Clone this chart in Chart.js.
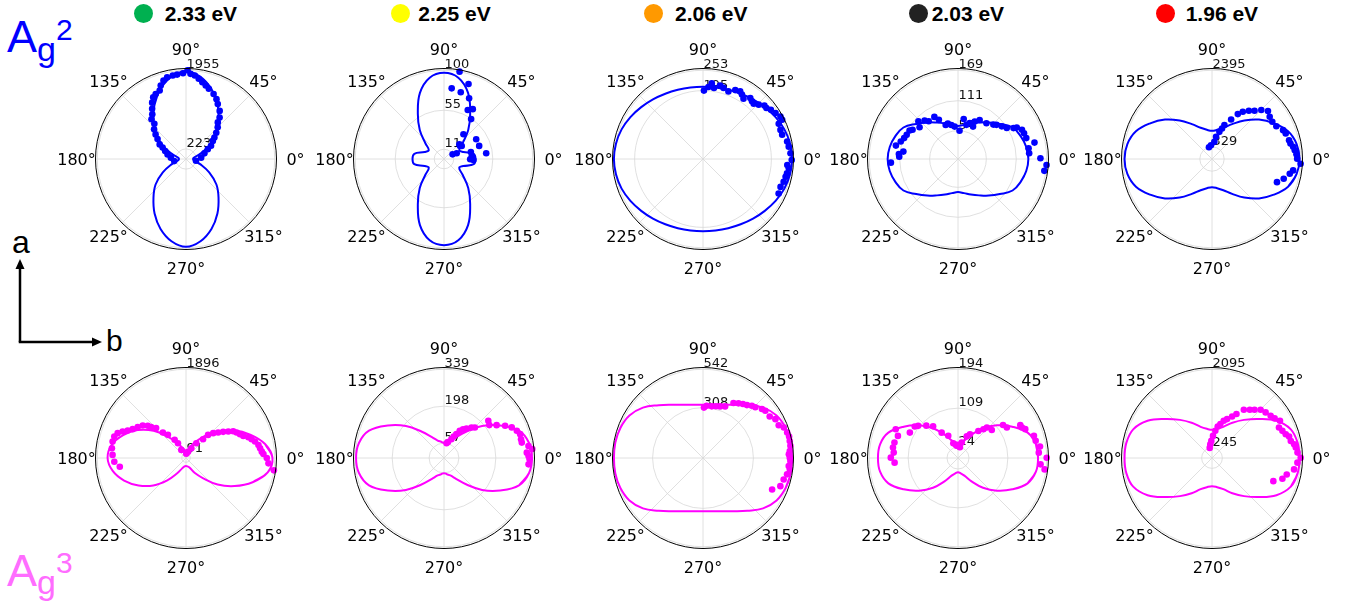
<!DOCTYPE html>
<html>
<head>
<meta charset="utf-8">
<script src="https://cdn.jsdelivr.net/npm/chart.js@4.4.0/dist/chart.umd.min.js"></script>
<style>
  html, body { margin: 0; padding: 0; background: #fff; }
  #stage { position: relative; width: 1363px; height: 609px; overflow: hidden;
           font-family: "Liberation Sans", Arial, sans-serif; }
  .pc { position: absolute; }
  .t { position: absolute; white-space: nowrap; line-height: 1; }
  .dot { position: absolute; width: 19px; height: 19px; border-radius: 50%; }
  .leg { font-weight: bold; font-size: 21px; color: #000; }
</style>
</head>
<body>
<div id="stage">
  <!-- mode labels -->
  <span class="t" style="left:7px;top:14px;font-size:45px;color:#0000ff;">A</span>
  <span class="t" style="left:37px;top:32px;font-size:34px;color:#0000ff;">g</span>
  <span class="t" style="left:56px;top:14.6px;font-size:30px;color:#0000ff;">2</span>
  <span class="t" style="left:7px;top:548px;font-size:45px;color:#ff6dff;">A</span>
  <span class="t" style="left:37px;top:565px;font-size:34px;color:#ff6dff;">g</span>
  <span class="t" style="left:56px;top:548px;font-size:30px;color:#ff6dff;">3</span>

  <!-- crystal axes -->
  <svg style="position:absolute;left:0;top:0" width="130" height="360">
    <line x1="20" y1="268" x2="20" y2="342" stroke="#000" stroke-width="2.5"/>
    <polygon points="20,259 15.5,269 24.5,269" fill="#000"/>
    <line x1="18.75" y1="342" x2="93" y2="342" stroke="#000" stroke-width="2.5"/>
    <polygon points="102,342 92,337.5 92,346.5" fill="#000"/>
  </svg>
  <span class="t" style="left:12px;top:226px;font-size:32px;color:#000;">a</span>
  <span class="t" style="left:106px;top:326px;font-size:30px;color:#000;">b</span>
</div>

<script>
// ---- excitation energies (column headers) ----
const ENERGY_LABELS = ['2.33 eV', '2.25 eV', '2.06 eV', '2.03 eV', '1.96 eV'];
const ENERGY_COLORS = ['#00b050', '#ffff00', '#ff9900', '#222222', '#ff0000'];

// ---- polar angle grid ----
const ANGLE_STEPS = [0, 45, 90, 135, 180, 225, 270, 315];
const ANGLE_LABELS = ['0°', '45°', '90°', '135°', '180°', '225°', '270°', '315°'];
const FIT_ANGLES = [0, 10, 20, 30, 40, 50, 60, 70, 80, 90, 100, 110, 120, 130, 140, 150, 160, 170,
                    180, 190, 200, 210, 220, 230, 240, 250, 260, 270, 280, 290, 300, 310, 320, 330, 340, 350];

// ================= Ag2 mode =================
// 2.33 eV
const ag2_233_fit = [155,180,330,590,875,1115,1385,1640,1840,1935, 1840,1640,1385,1115,875,590,330,180,155,
                     180,330,590,875,1115,1385,1640,1840,1935, 1840,1640,1385,1115,875,590,330,180];
const ag2_233_ang = [350,5,17,24,28,34,37,41,45,49,51,55,60,63,67,72,75,78,81,84,87,89,92,96,99,103,106,109,111,
                     115,118,121,124,127,131,132,137,141,145,151,154,159,166,175,190];
const ag2_233_int = [223,335,425,525,625,713,784,884,988,1068,1177,1294,1400,1480,1556,1629,1678,1731,1791,1850,
                     1879,1955,1892,1870,1864,1846,1799,1711,1618,1580,1540,1449,1334,1234,1159,1042,962,862,765,
                     663,574,492,419,335,264];
const ag2_233_ticks = [223, 1955];

// 2.25 eV
const ag2_225_fit = [35.5,34,23.2,19.8,27.2,42.5,59,79.3,93,97.1, 93,79.3,59,42.5,27.2,19.8,23.2,34,35.5,
                     34,23.2,19.8,27.2,42.5,59,79.3,93,97.1, 93,79.3,59,42.5,27.2,19.8,23.2,34];
const ag2_225_ang = [79.9,71.9,83.8,75.9,67.5,64.1,60,55.8,51.9,31.6,36.3,20.4,43.7,39,7.7,28.3,24.1,14.7,6.2,359.3,358];
const ag2_225_int = [100,88.9,80.1,77.5,74,61.3,64.9,54.4,35.5,42.6,24.8,42.3,24,23.3,48,11,15.7,31.3,31.5,29.5,33.2];
const ag2_225_ticks = [11, 55, 100];

// 2.06 eV
const ag2_206_fit = [254,252,247,239,230,222,215,210,207,206, 207,210,215,222,230,239,247,252,254,
                     252,247,239,230,222,215,210,207,206, 207,210,215,222,230,239,247,252];
const ag2_206_ang = [89.2,85.7,83.4,81.2,76.9,73.9,69.4,64.9,61.2,58.9,56.1,52.2,49.7,47.5,44.3,41,38.8,35.9,32.4,
                     28.8,26.4,24.9,20.6,17,11.7,8.2,3.7,359.4,355.9,353.8,350.3,347.8,344.2,340.2,335.5];
const ag2_206_int = [195,206,217,205,215,211,206,217,220,215,207,220,216,214,222,232,232,239,245,
                     252,252,238,236,236,245,247,250,253,241,246,243,241,239,235,237];
const ag2_206_ticks = [195, 253];

// 2.03 eV
const ag2_203_fit = [134,132,127,120,104,91,80,72,66,63, 66,72,80,91,104,120,127,132,134,
                     132,127,120,104,91,80,72,66,63, 66,72,80,91,104,120,127,132];
const ag2_203_ang = [183.1,177.7,175.2,172.3,167.8,163,158.8,154.8,149.6,147.2,140.4,136.5,131,127.8,119.3,116,
                     109.9,106,101.1,95.9,86.9,81.9,76.2,71.9,65.1,65.9,61,51.5,44.2,41.6,36.7,32.4,29.1,28.2,
                     24.6,21.3,17,12.1,8.7,4.6,0.5,356.1,352.2];
const ag2_203_int = [128,112,113,105,121,114,110,108,107,103,95,104,97,91,92,83,69,70,66,62,54,77,67,72,68,78,85,
                     87,94,98,104,110,121,127,134,135,136,149,136,136,157,169,166];
const ag2_203_ticks = [54, 111, 169];

// 1.96 eV
const ag2_196_fit = [2361,2320,2185,1927,1656,1357,1086,896,800,760, 800,896,1086,1357,1656,1927,2185,2320,2361,
                     2320,2185,1927,1656,1357,1086,896,800,760, 800,896,1086,1357,1656,1927,2185,2320];
const ag2_196_ang = [104.5,94.2,82.2,79.7,74.8,71.8,69.9,64.2,60.1,56.9,52.6,48.6,44.8,40.6,36.2,31.7,27,22.1,19.1,
                     13.7,11.1,8.5,6,3.2,0.2,356.9,352,349.3,344.6,340.4];
const ag2_196_int = [329,372,467,608,760,866,974,1186,1398,1523,1639,1737,1875,1989,1930,1913,1949,2071,2106,
                     2141,2158,2215,2247,2283,2299,2395,2212,2136,2008,1862];
const ag2_196_ticks = [329, 2395];

// ================= Ag3 mode =================
// 2.33 eV
const ag3_233_fit = [1848,1715,1461,1182,881,612,387,247,172,140,172,236,365,580,903,1193,1429,1612,
                     1676,1590,1408,1171,913,623,376,236,183,172,183,215,365,559,881,1199,1515,1773];
const ag3_233_ang = [86,72,61,55,47.7,46.3,42.4,38.4,35.1,32,29.6,26.7,23.8,21.1,18.5,16,13.4,10.2,7.5,4.8,3,0,
                     356.3,352,120,118.6,122,128,132.3,135,138.5,139.9,143.1,147.4,151.6,154.8,157.3,160,163.4,
                     167.4,172.5,177.6,183,187.5];
const ag3_233_int = [91,142,236,385,542,683,787,877,971,1066,1160,1210,1261,1313,1405,1459,1517,1573,1597,1625,
                     1657,1726,1766,1896,200,359,458,628,735,903,995,1068,1156,1225,1296,1378,1468,1554,1599,
                     1607,1597,1571,1534,1427];
const ag3_233_ticks = [91, 1896];

// 2.25 eV
const ag3_225_fit = [336,330,305,248,190,131,92,71,63,58, 63,71,92,131,190,248,305,330,336,
                     330,305,248,190,131,92,71,63,58, 63,71,92,131,190,248,305,330];
const ag3_225_ang = [80.3,76,68.6,65.6,62.5,59.9,56.5,52.7,48,44.7,40,36,32,27.8,24.3,20.5,17.4,13.7,11.2,8.1,
                     5.8,3.7,1.4,359.1,355.7];
const ag3_225_int = [57,63,77,90,103,120,132,142,157,166,221,214,237,264,284,297,305,303,303,326,339,317,323,327,324];
const ag3_225_ticks = [57, 198, 339];

// 2.06 eV
const ag3_206_fit = [544,544,537,519,479,421,376,346,330,326, 330,346,376,421,479,519,537,544,544,
                     544,537,519,479,421,376,346,330,326, 330,346,376,421,479,519,537,544];
const ag3_206_ang = [88.9,86,80.4,76,71.7,66.8,61,57,53.5,50.3,46.9,44.1,39.7,37.2,31.9,28.2,23.4,20.7,16.8,14,
                     11.1,7.9,4.6,2.5,0.2,358,354.6,352.5,349,345.1,340,335.5];
const ag3_206_int = [308,320,320,326,332,343,384,398,410,420,437,445,468,478,480,502,504,528,537,542,540,539,532,
                     525,530,534,526,535,523,510,503,464];
const ag3_206_ticks = [308, 542];

// 2.03 eV
const ag3_203_fit = [175,173,162,137,111,85,59,41,34,31, 34,41,59,85,111,137,162,173,175,
                     173,162,137,111,85,59,41,34,31, 34,41,59,85,111,137,162,173];
const ag3_203_ang = [76.6,67.9,63.1,53,48.5,46.6,39.7,36.2,32,27.8,25.5,23.2,16.3,12.5,7.9,3.8,0.2,355.6,352.5,
                     96.3,80,90,100,85,107.6,113.7,122.8,128.2,134.4,141.1,143.9,152.2,155.2,159.8,166.3,170.9,
                     175.2,179.7,184.2];
const ag3_203_int = [35,51,58,74,84,92,96,122,126,154,155,160,173,174,181,177,194,181,191,
                     27,24,26,30,29,34,53,66,88,99,112,117,119,150,140,143,144,141,147,139];
const ag3_203_ticks = [24, 109, 194];

// 1.96 eV
const ag3_196_fit = [2065,2054,1980,1757,1436,1175,961,783,700,665, 700,783,961,1175,1436,1757,1980,2054,2065,
                     2054,1980,1757,1436,1175,961,783,700,665, 700,783,961,1175,1436,1757,1980,2054];
const ag3_196_ang = [102.7,97,92.2,87.4,83,79.7,76.1,72.5,68.8,64.2,60.9,56.6,51.9,48.6,44.8,40.4,35.8,32.3,28.7,
                     24.5,21.1,17.9,15.6,12.2,9.5,7.1,3.6,0.2,356.9,352.1,347.6,343.6,339.3];
const ag3_196_int = [245,328,404,522,646,755,824,921,985,1090,1187,1365,1448,1519,1617,1662,1707,1750,1830,
                     1738,1781,1830,1890,1904,1966,1994,2023,2095,2020,1956,1807,1733,1548];
const ag3_196_ticks = [245, 2095];

const BLUE = '#0000ff';
const MAGENTA = '#ff00ff';

// panel layout: centre of each polar plot on the page
const COL_X = [186, 444, 703, 958, 1212];
const ROW_Y = [159, 458];
const LEGEND_DOT_X = [143.7, 400, 653.3, 918, 1165.5];
const LEGEND_TEXT_X = [164.7, 418.3, 675, 931.7, 1185.7];

const PANELS = [
  { col: 0, row: 0, fit: ag2_233_fit, ang: ag2_233_ang, val: ag2_233_int, ticks: ag2_233_ticks, color: BLUE },
  { col: 1, row: 0, fit: ag2_225_fit, ang: ag2_225_ang, val: ag2_225_int, ticks: ag2_225_ticks, color: BLUE },
  { col: 2, row: 0, fit: ag2_206_fit, ang: ag2_206_ang, val: ag2_206_int, ticks: ag2_206_ticks, color: BLUE },
  { col: 3, row: 0, fit: ag2_203_fit, ang: ag2_203_ang, val: ag2_203_int, ticks: ag2_203_ticks, color: BLUE },
  { col: 4, row: 0, fit: ag2_196_fit, ang: ag2_196_ang, val: ag2_196_int, ticks: ag2_196_ticks, color: BLUE },
  { col: 0, row: 1, fit: ag3_233_fit, ang: ag3_233_ang, val: ag3_233_int, ticks: ag3_233_ticks, color: MAGENTA },
  { col: 1, row: 1, fit: ag3_225_fit, ang: ag3_225_ang, val: ag3_225_int, ticks: ag3_225_ticks, color: MAGENTA },
  { col: 2, row: 1, fit: ag3_206_fit, ang: ag3_206_ang, val: ag3_206_int, ticks: ag3_206_ticks, color: MAGENTA },
  { col: 3, row: 1, fit: ag3_203_fit, ang: ag3_203_ang, val: ag3_203_int, ticks: ag3_203_ticks, color: MAGENTA },
  { col: 4, row: 1, fit: ag3_196_fit, ang: ag3_196_ang, val: ag3_196_int, ticks: ag3_196_ticks, color: MAGENTA }
];

const stage = document.getElementById('stage');

// column headers: coloured marker + energy
ENERGY_LABELS.forEach((txt, i) => {
  const d = document.createElement('div');
  d.className = 'dot';
  d.style.left = (LEGEND_DOT_X[i] - 9.5) + 'px';
  d.style.top = '3.8px';
  d.style.background = ENERGY_COLORS[i];
  stage.appendChild(d);
  const s = document.createElement('span');
  s.className = 't leg';
  s.style.left = LEGEND_TEXT_X[i] + 'px';
  s.style.top = '2.7px';
  s.textContent = txt;
  stage.appendChild(s);
});

// polar angle (deg) + radius -> cartesian point for the linear x/y scales
function toXY(deg, r) {
  const t = deg * Math.PI / 180;
  return { x: r * Math.cos(t), y: r * Math.sin(t) };
}

// closed fit curve: wrap two samples on each side so the spline closes smoothly
function fitPath(values) {
  const n = FIT_ANGLES.length;
  const pts = [];
  for (let k = -2; k <= n + 1; k++) {
    const i = (k + n) % n;
    pts.push(toXY(FIT_ANGLES[i], values[i]));
  }
  return pts;
}

// polar frame: radial rings, spokes, radial tick labels, outer circle, angle labels
const polarFrame = {
  id: 'polarFrame',
  beforeDatasetsDraw(chart, args, opts) {
    const { ctx } = chart;
    const xs = chart.scales.x, ys = chart.scales.y;
    const cx = xs.getPixelForValue(0), cy = ys.getPixelForValue(0);
    const R = xs.getPixelForValue(xs.max) - cx;
    ctx.save();
    ctx.strokeStyle = '#d8d8d8';
    ctx.lineWidth = 0.8;
    for (const t of opts.ticks) {
      const r = xs.getPixelForValue(t) - cx;
      ctx.beginPath();
      ctx.arc(cx, cy, r, 0, Math.PI * 2);
      ctx.stroke();
    }
    for (const d of ANGLE_STEPS) {
      const a = d * Math.PI / 180;
      ctx.beginPath();
      ctx.moveTo(cx, cy);
      ctx.lineTo(cx + R * Math.cos(a), cy - R * Math.sin(a));
      ctx.stroke();
    }
    ctx.fillStyle = '#111';
    ctx.font = '13px "DejaVu Sans"';
    ctx.textAlign = 'left';
    ctx.textBaseline = 'alphabetic';
    for (const t of opts.ticks) {
      const r = xs.getPixelForValue(t) - cx;
      ctx.fillText(String(t), cx + 0.5, cy - r - 2);
    }
    ctx.restore();
  },
  afterDatasetsDraw(chart) {
    const { ctx } = chart;
    const xs = chart.scales.x, ys = chart.scales.y;
    const cx = xs.getPixelForValue(0), cy = ys.getPixelForValue(0);
    const R = xs.getPixelForValue(xs.max) - cx;
    ctx.save();
    ctx.strokeStyle = '#000';
    ctx.lineWidth = 1;
    ctx.beginPath();
    ctx.arc(cx, cy, R, 0, Math.PI * 2);
    ctx.stroke();
    ctx.fillStyle = '#000';
    ctx.font = '16px "DejaVu Sans"';
    ctx.textAlign = 'center';
    ctx.textBaseline = 'alphabetic';
    ANGLE_STEPS.forEach((d, i) => {
      const a = d * Math.PI / 180;
      const lx = cx + (R + 19) * Math.cos(a);
      const ly = cy - (R + 19) * Math.sin(a);
      ctx.fillText(ANGLE_LABELS[i], lx, ly + 5.8);
    });
    ctx.restore();
  }
};

const CW = 270, CH = 260, RPX = 90.5;

PANELS.forEach(p => {
  const cx = COL_X[p.col], cy = ROW_Y[p.row];
  const cv = document.createElement('canvas');
  cv.width = CW; cv.height = CH;
  cv.className = 'pc';
  cv.style.left = (cx - CW / 2) + 'px';
  cv.style.top = (cy - CH / 2) + 'px';
  stage.appendChild(cv);
  const rmax = p.ticks[p.ticks.length - 1] * 1.02;
  const padX = CW / 2 - RPX, padY = CH / 2 - RPX;
  new Chart(cv, {
    type: 'scatter',
    data: {
      datasets: [
        {
          label: 'measured',
          data: p.ang.map((a, i) => toXY(a, p.val[i])),
          showLine: false,
          pointRadius: 3.3,
          backgroundColor: p.color,
          borderWidth: 0,
          clip: false
        },
        {
          label: 'fit',
          data: fitPath(p.fit),
          showLine: true,
          borderColor: p.color,
          borderWidth: 2,
          pointRadius: 0,
          tension: 0.4,
          fill: false,
          clip: false
        }
      ]
    },
    options: {
      responsive: false,
      animation: false,
      events: [],
      layout: { padding: { left: padX, right: padX, top: padY, bottom: padY } },
      elements: { line: { capBezierPoints: false } },
      scales: {
        x: { type: 'linear', display: false, min: -rmax, max: rmax },
        y: { type: 'linear', display: false, min: -rmax, max: rmax }
      },
      plugins: {
        legend: { display: false },
        tooltip: { enabled: false },
        polarFrame: { ticks: p.ticks }
      }
    },
    plugins: [polarFrame]
  });
});
</script>
</body>
</html>
